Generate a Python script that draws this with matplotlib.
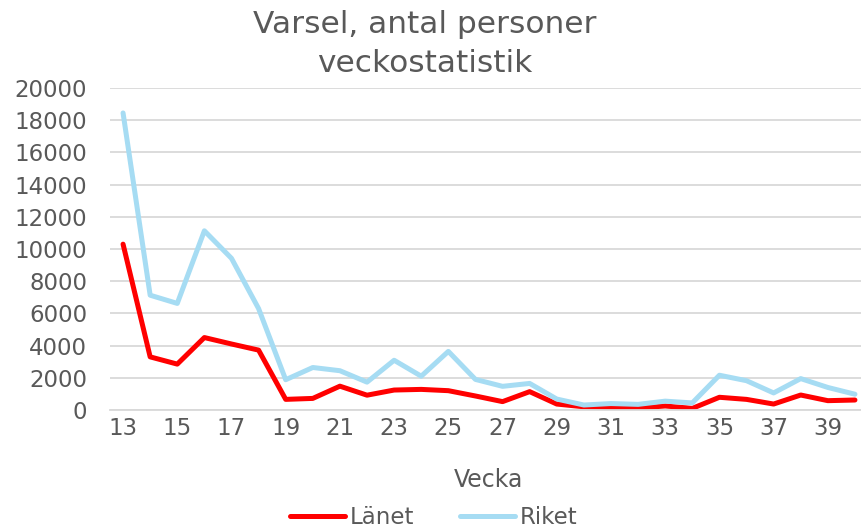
import matplotlib
matplotlib.use("Agg")
import matplotlib.pyplot as plt

weeks = list(range(13, 41))
lanet = [10300, 3300, 2850, 4500, 4100, 3720, 660, 720, 1480, 920, 1240, 1280, 1200,
         870, 520, 1140, 370, 200, 160, 120, 250, 100, 790, 660, 370, 930, 580, 620]
riket = [18450, 7130, 6620, 11130, 9420, 6300, 1880, 2640, 2440, 1730, 3090, 2100, 3640,
         1900, 1470, 1650, 680, 310, 400, 350, 550, 440, 2160, 1820, 1060, 1950, 1400, 980]
xtick_labels = [str(w) for w in range(13, 41, 2)]
yticks = list(range(0, 20001, 2000))

txt = "#595959"
plt.rcParams['font.family'] = ['DejaVu Sans']

fig = plt.figure(figsize=(8.61, 5.31), dpi=100)
ax = fig.add_axes([109.5 / 861, 1 - 410 / 531, 759 / 861, 322 / 531])

ax.plot(weeks, lanet, color="#ff0000", lw=3.6, label="Länet", solid_capstyle="round", solid_joinstyle="round")
ax.plot(weeks, riket, color="#a6dcf3", lw=3.6, label="Riket", solid_capstyle="round", solid_joinstyle="round")

ax.set_xlim(12.5, 40.5)
ax.set_ylim(0, 20000)
ax.set_yticks(yticks)
ax.set_yticklabels([str(v) for v in yticks])
ax.set_xticks(list(range(13, 41, 2)))
ax.set_xticklabels(xtick_labels)
ax.grid(axis="y", color="#d9d9d9", lw=1.3)
ax.set_axisbelow(True)
for s in ["top", "right", "left"]:
    ax.spines[s].set_visible(False)
ax.spines["bottom"].set_color("#d9d9d9")
ax.spines["bottom"].set_linewidth(1.3)
ax.tick_params(axis="both", length=0, labelsize=16.5, labelcolor=txt)
ax.tick_params(axis="y", pad=16)
ax.tick_params(axis="x", pad=5)

ax.set_xlabel("Vecka", fontsize=17, color=txt, labelpad=20)
fig.text(425 / 861, 1 - 44 / 531, "Varsel, antal personer\nveckostatistik", ha="center", va="center",
         fontsize=22.5, color=txt, linespacing=1.4)

fig.legend(loc="center", bbox_to_anchor=(434 / 861, 1 - 518 / 531), ncol=2, frameon=False,
           fontsize=16.5, labelcolor=txt, handlelength=2.4, handletextpad=0.2, columnspacing=2.0)

fig.savefig("out.png", dpi=100)
